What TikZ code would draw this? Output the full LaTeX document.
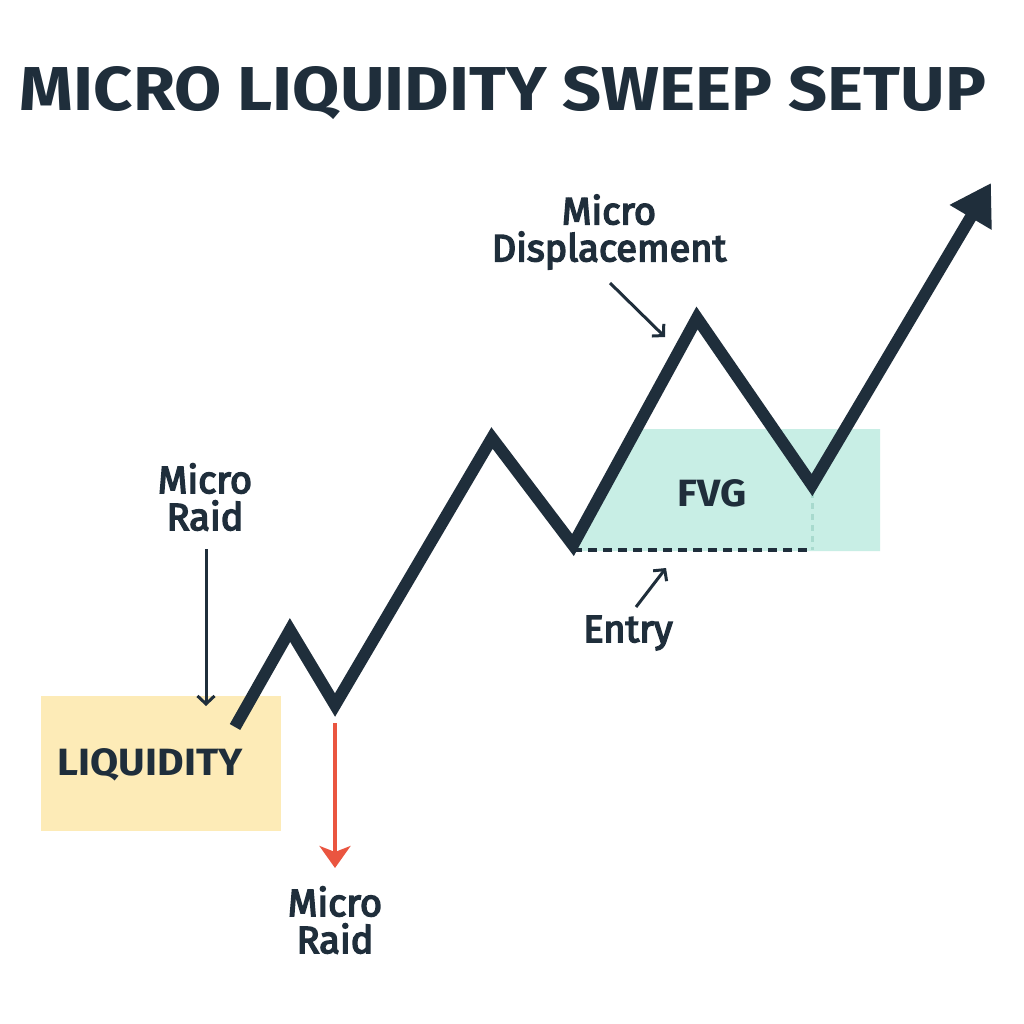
\documentclass[tikz,border=0pt]{standalone}
\usepackage{fontspec}
\setmainfont{Fira Sans}
\newfontfamily\labfont[FakeBold=4]{Fira Sans}
\usetikzlibrary{arrows.meta}
\definecolor{ink}{RGB}{31,46,59}
\definecolor{liqfill}{RGB}{253,235,183}
\definecolor{fvgfill}{RGB}{200,238,229}
\definecolor{fvgline}{RGB}{168,218,206}
\definecolor{raidred}{RGB}{234,85,64}
\tikzset{
  lbl/.style={text=ink, align=center, inner sep=0pt, font=\labfont\fontsize{38}{37}\selectfont},
  boldlbl/.style={text=ink, inner sep=0pt, font=\bfseries\fontsize{38}{38}\selectfont},
  pointer/.style={draw=ink, line width=3pt, -{Straight Barb[length=8pt, width=17pt, line width=3pt]}},
  price/.style={draw=ink, line width=12pt, line join=miter, miter limit=10},
}
\begin{document}
\begin{tikzpicture}[x=1pt,y=-1pt]
\useasboundingbox (0,0) rectangle (1024,1024);
\fill[white] (0,0) rectangle (1024,1024);

% title
\node[text=ink, inner sep=0pt, font=\bfseries\fontsize{62}{62}\selectfont] (title) at (503,93) {\scalebox{1.103}[1]{MICRO LIQUIDITY SWEEP SETUP}};

% price path points
\coordinate (p0) at (235,727);
\coordinate (p1) at (290,630);
\coordinate (p2) at (335,705);
\coordinate (p3) at (492,438);
\coordinate (p4) at (573,545);
\coordinate (p5) at (697,318);
\coordinate (p6) at (812,485);
\coordinate (p7) at (991,183);

% zones
\fill[liqfill] (41,696) rectangle (281,831);
\node[boldlbl] (liq) at (150,765) {\scalebox{1.076}[1]{LIQUIDITY}};
\fill[fvgfill] (573,551) -- (p4) -- (636.4,429) -- (880,429) -- (880,551) -- cycle;
\node[boldlbl] (fvg) at (712,493) {\scalebox{1.07}[1]{FVG}};

% entry level
\coordinate (e0) at (573,550);
\coordinate (e1) at (812,550);
\coordinate (v0) at (812,492);
\draw[fvgline, line width=3pt, dash pattern=on 6pt off 5pt] (v0) -- (e1);
\draw[ink, line width=4pt, dash pattern=on 9pt off 6pt] (e0) -- (e1);

% price path
\draw[price, -{Triangle[length=40pt, width=46pt]}] (p0) -- (p1) -- (p2) -- (p3) -- (p4) -- (p5) -- (p6) -- (p7);

% labels
\node[lbl] (raidtop) at (205,497) {Micro\\Raid};
\node[lbl] (raidbot) at (335,920) {Micro\\Raid};
\node[lbl] (disp) at (609,232) {Micro\\Displacement};
\node[lbl] (entry) at (628,633) {Entry};

% pointers
\coordinate (a0) at (206,549);
\coordinate (a1) at (206,706);
\draw[pointer] (a0) -- (a1);
\coordinate (b0) at (610,283);
\coordinate (b1) at (665,337);
\draw[pointer] (b0) -- (b1);
\coordinate (c0) at (636,607);
\coordinate (c1) at (666,568);
\draw[pointer] (c0) -- (c1);
\coordinate (r0) at (335,723);
\coordinate (r1) at (335,868);
\draw[raidred, line width=3.5pt, -{Stealth[length=22pt, width=31pt, inset=6pt]}] (r0) -- (r1);
\end{tikzpicture}
\end{document}
